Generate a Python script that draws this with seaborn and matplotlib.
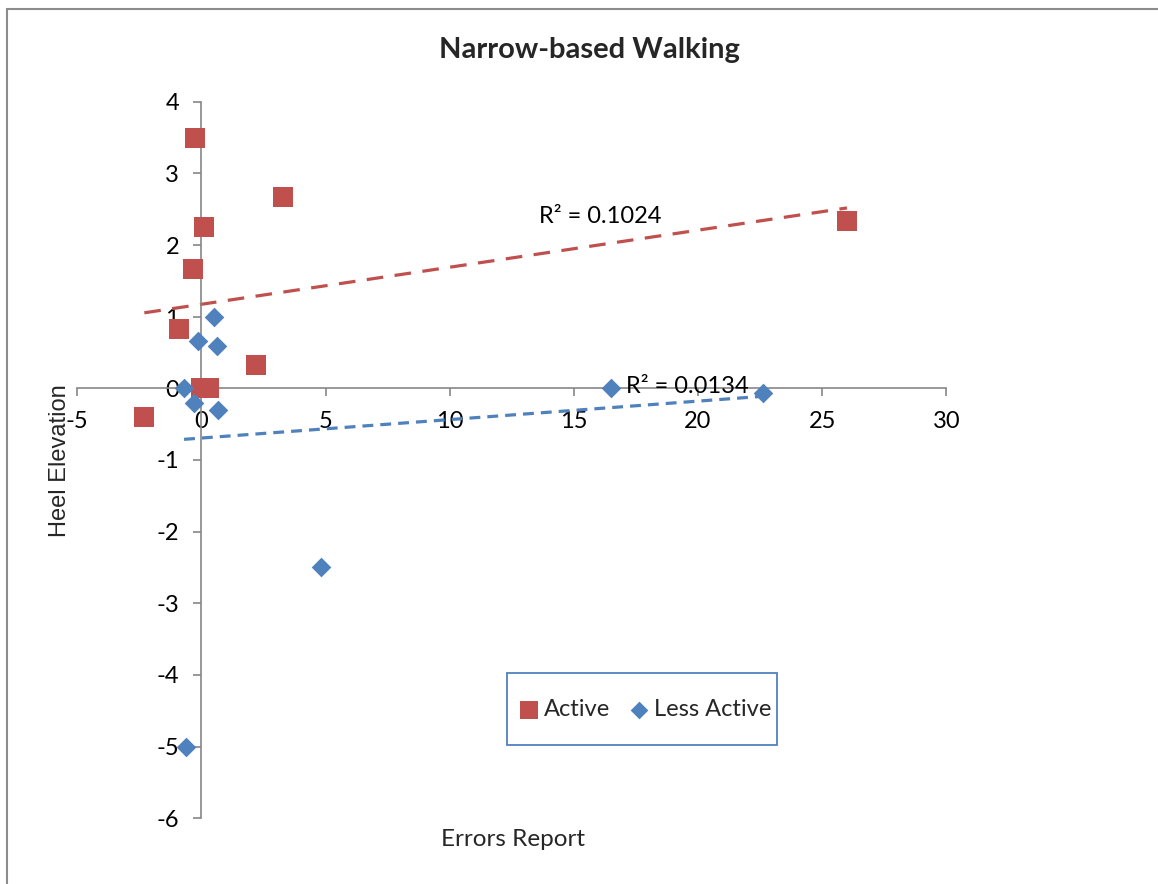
import matplotlib
matplotlib.use("Agg")
import matplotlib.pyplot as plt
import matplotlib.patches as mpatches
import seaborn as sns
import pandas as pd

# ---- data ----
active_x = [-0.25, 3.3, 0.1, -0.35, -0.9, 2.2, 0.0, 0.3, -2.3, 26.0]
active_y = [3.5, 2.67, 2.25, 1.67, 0.83, 0.33, 0.0, 0.0, -0.4, 2.33]
less_x = [0.5, -0.13, 0.62, -0.7, -0.3, 0.67, 4.83, -0.62, 16.48, 22.62]
less_y = [1.0, 0.66, 0.59, 0.0, -0.2, -0.3, -2.5, -5.0, 0.0, -0.06]
series_names = ["Active", "Less Active"]
r2_labels = ["R\u00b2 = 0.1024", "R\u00b2 = 0.0134"]
r2_pos = [(13.6, 2.40), (17.1, 0.02)]
x_ticks = [-5, 0, 5, 10, 15, 20, 25, 30]
y_ticks = [-6, -5, -4, -3, -2, -1, 0, 1, 2, 3, 4]
title = "Narrow-based Walking"
x_label = "Errors Report"
y_label = "Heel Elevation"

RED = "#C0504D"
BLUE = "#4F81BD"
GRAY = "#868686"
FS = 17

sns.set_theme(style="white")
plt.rcParams["font.family"] = ["Lato", "DejaVu Sans"]
plt.rcParams["axes.unicode_minus"] = False

df_a = pd.DataFrame({"x": active_x, "y": active_y})
df_l = pd.DataFrame({"x": less_x, "y": less_y})

fig = plt.figure(figsize=(11.58, 8.84), dpi=100)
ax = fig.add_axes([77.3 / 1158, 1 - 818.2 / 884, 869 / 1158, 716.5 / 884])

# trend lines
sns.regplot(data=df_a, x="x", y="y", scatter=False, ci=None, truncate=True, ax=ax,
            line_kws=dict(color=RED, lw=2.3, linestyle=(0, (5.2, 3.6)), zorder=2))
sns.regplot(data=df_l, x="x", y="y", scatter=False, ci=None, truncate=True, ax=ax,
            line_kws=dict(color=BLUE, lw=2.3, linestyle=(0, (3.4, 2.2)), zorder=2))

# markers
sns.scatterplot(data=df_a, x="x", y="y", marker="s", s=200, color=RED, edgecolor=RED,
                linewidth=0, ax=ax, label=series_names[0], zorder=3)
sns.scatterplot(data=df_l, x="x", y="y", marker="D", s=100, color=BLUE, edgecolor=BLUE,
                linewidth=0, ax=ax, label=series_names[1], zorder=3)

ax.set_xlim(-5, 30)
ax.set_ylim(-6, 4)
ax.set_xticks(x_ticks)
ax.set_yticks(y_ticks)
ax.set_xlabel("")
ax.set_ylabel("")

for side in ["top", "right"]:
    ax.spines[side].set_visible(False)
for side in ["left", "bottom"]:
    ax.spines[side].set_position(("data", 0))
    ax.spines[side].set_color(GRAY)
    ax.spines[side].set_linewidth(1.2)

ax.tick_params(axis="both", which="major", direction="out", length=6, width=1.2,
               color=GRAY, labelsize=FS, labelcolor="black")
ax.tick_params(axis="y", left=True, pad=10)
ax.tick_params(axis="x", bottom=True, pad=10)

for lab, (tx, ty) in zip(r2_labels, r2_pos):
    ax.text(tx, ty, lab, fontsize=FS, ha="left", va="center", color="black", zorder=4)

# titles
fig.text(589 / 1158, 1 - 50 / 884, title, fontsize=21, fontweight="bold", ha="center", va="center")
fig.text(513 / 1158, 1 - 840 / 884, x_label, fontsize=17.5, ha="center", va="center")
fig.text(60 / 1158, 1 - 461 / 884, y_label, fontsize=17, rotation=90, ha="center", va="center",
         family=["Liberation Sans", "DejaVu Sans"])

# legend
leg = ax.legend(loc="center", bbox_to_anchor=(0.653, 0.152), ncol=2, frameon=False,
                fontsize=FS, handletextpad=0.2, columnspacing=0.75, markerscale=0.9,
                handlelength=0.9)
box = mpatches.Rectangle((507 / 1158, 1 - 745 / 884), 270 / 1158, 72 / 884,
                         transform=fig.transFigure, fill=False, edgecolor=BLUE, lw=1.3)
fig.add_artist(box)

# outer chart border
border = mpatches.Rectangle((7.5 / 1158, -0.1), 1.2, 1.1 - 9.5 / 884,
                            transform=fig.transFigure, fill=False, edgecolor="#8C8C8C", lw=1.5)
fig.add_artist(border)

fig.savefig("out.png", dpi=100)
